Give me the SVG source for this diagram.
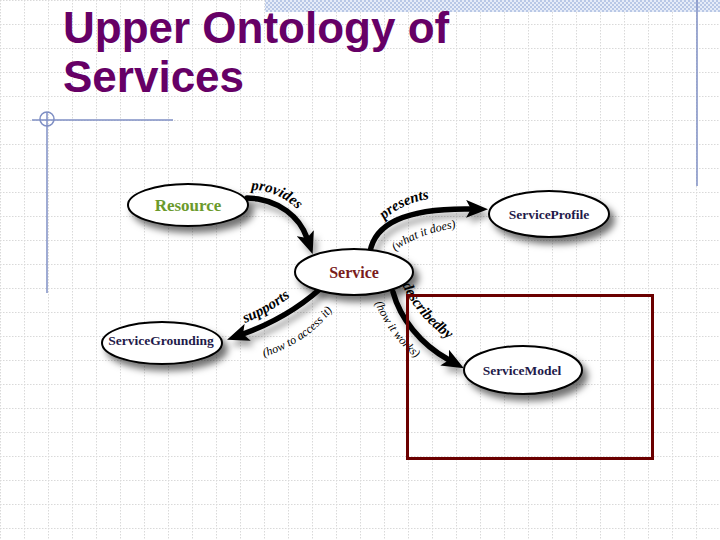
<svg xmlns="http://www.w3.org/2000/svg" width="720" height="540" viewBox="0 0 720 540">
<defs>
<pattern id="grid" width="24" height="24" patternUnits="userSpaceOnUse">
<path d="M0.5 0 V24 M0 0.5 H24" stroke="#d9d9d9" stroke-width="1" stroke-dasharray="1.5 1.5" fill="none"/>
</pattern>
<pattern id="check" width="4" height="4" patternUnits="userSpaceOnUse">
<rect width="4" height="4" fill="#e6ecf8"/>
<rect width="2" height="2" fill="#b9c8e6"/>
<rect x="2" y="2" width="2" height="2" fill="#b9c8e6"/>
</pattern>
<filter id="shadow" x="-20%" y="-30%" width="150%" height="180%">
<feDropShadow dx="5" dy="6" stdDeviation="3.5" flood-color="#000" flood-opacity="0.55"/>
</filter>
<filter id="ashadow" x="-30%" y="-30%" width="160%" height="160%">
<feDropShadow dx="4" dy="6" stdDeviation="3" flood-color="#000" flood-opacity="0.35"/>
</filter>
<marker id="head" viewBox="0 0 22 18" refX="5" refY="9" markerWidth="22" markerHeight="18" markerUnits="userSpaceOnUse" orient="auto">
<path d="M0 0 L22 9 L0 18 L5 9 Z" fill="#000"/>
</marker>
<path id="tp-provides" d="M 251 190 C 276 190, 296 204, 307 222"/>
<path id="tp-presents" d="M 384 220 C 398 207, 414 201, 434 198"/>
<path id="tp-does" d="M 395 251 C 411 239, 433 231, 461 227"/>
<path id="tp-supports" d="M 245 323 C 262 316, 280 306, 296 292"/>
<path id="tp-access" d="M 264 357 C 292 348, 318 332, 336 305"/>
<path id="tp-described" d="M 402 285 C 412 306, 428 327, 457 345"/>
<path id="tp-works" d="M 375 303 C 384 324, 397 344, 421 362"/>
</defs>
<style>
.node ellipse { fill: #ffffff; stroke: #000; stroke-width: 2; }
.lbl { font-family: "Liberation Serif", "DejaVu Serif", serif; font-weight: bold; text-anchor: middle; }
.rel { font-family: "Liberation Serif", "DejaVu Serif", serif; font-weight: bold; font-style: italic; font-size: 15px; fill: #000; }
.par { font-family: "Liberation Serif", "DejaVu Serif", serif; font-style: italic; font-size: 12px; fill: #000; }
.arrow { fill: none; stroke: #000; stroke-width: 5.5; stroke-linecap: round; marker-end: url(#head); }
.deco { stroke: #7f8fc4; stroke-width: 1.5; fill: none; }
.title { font-family: "Liberation Sans", Arial, sans-serif; font-weight: bold; font-size: 44px; fill: #660066; }
</style>
<rect width="720" height="540" fill="#ffffff"/>
<rect width="720" height="540" fill="url(#grid)"/>
<rect x="265" y="0" width="455" height="12" fill="url(#check)"/>
<g id="decoration">
<line class="deco" x1="697" y1="0" x2="697" y2="186"/>
<line class="deco" x1="47" y1="112" x2="47" y2="293"/>
<line class="deco" x1="32" y1="120" x2="173" y2="120"/>
<circle class="deco" cx="47" cy="119" r="7"/>
</g>
<g id="title">
<text class="title" x="63" y="43">Upper Ontology of</text>
<text class="title" x="63" y="92">Services</text>
</g>
<g id="connectors" filter="url(#ashadow)">
<path class="arrow" d="M 247 198 C 280 199, 300 218, 307 238"/>
<path class="arrow" d="M 370 252 C 375 222, 410 208, 471 209"/>
<path class="arrow" d="M 320 289 C 302 305, 276 322, 243 334"/>
<path class="arrow" d="M 393 292 C 400 318, 420 344, 449 360"/>
</g>
<g id="labels">
<text class="rel"><textPath href="#tp-provides">provides</textPath></text>
<text class="rel"><textPath href="#tp-presents">presents</textPath></text>
<text class="par"><textPath href="#tp-does">(what it does)</textPath></text>
<text class="rel"><textPath href="#tp-supports">supports</textPath></text>
<text class="par"><textPath href="#tp-access">(how to access it)</textPath></text>
<text class="rel"><textPath href="#tp-described">describedby</textPath></text>
<text class="par"><textPath href="#tp-works">(how it works)</textPath></text>
</g>
<g id="node-resource" class="node">
<ellipse cx="188" cy="205" rx="60" ry="21" filter="url(#shadow)"/>
<text class="lbl" x="188" y="211" font-size="17" fill="#6b9a2c">Resource</text>
</g>
<g id="node-service" class="node">
<ellipse cx="354" cy="272" rx="59" ry="23" filter="url(#shadow)"/>
<text class="lbl" x="354" y="278" font-size="16" fill="#7a1c1c">Service</text>
</g>
<g id="node-serviceprofile" class="node">
<ellipse cx="549" cy="214" rx="60" ry="23" filter="url(#shadow)"/>
<text class="lbl" x="549" y="219" font-size="13.5" fill="#1f1a4a">ServiceProfile</text>
</g>
<g id="node-servicegrounding" class="node">
<ellipse cx="162" cy="343" rx="60" ry="21" filter="url(#shadow)"/>
<text class="lbl" x="161" y="345" font-size="13.5" fill="#1f1a4a">ServiceGrounding</text>
</g>
<g id="node-servicemodel" class="node">
<ellipse cx="523" cy="370" rx="59" ry="24" filter="url(#shadow)"/>
<text class="lbl" x="522" y="375" font-size="13.5" fill="#1f1a4a">ServiceModel</text>
</g>
<rect id="highlight" x="407.5" y="295.5" width="245" height="163" fill="none" stroke="#6b0000" stroke-width="3"/>
</svg>
